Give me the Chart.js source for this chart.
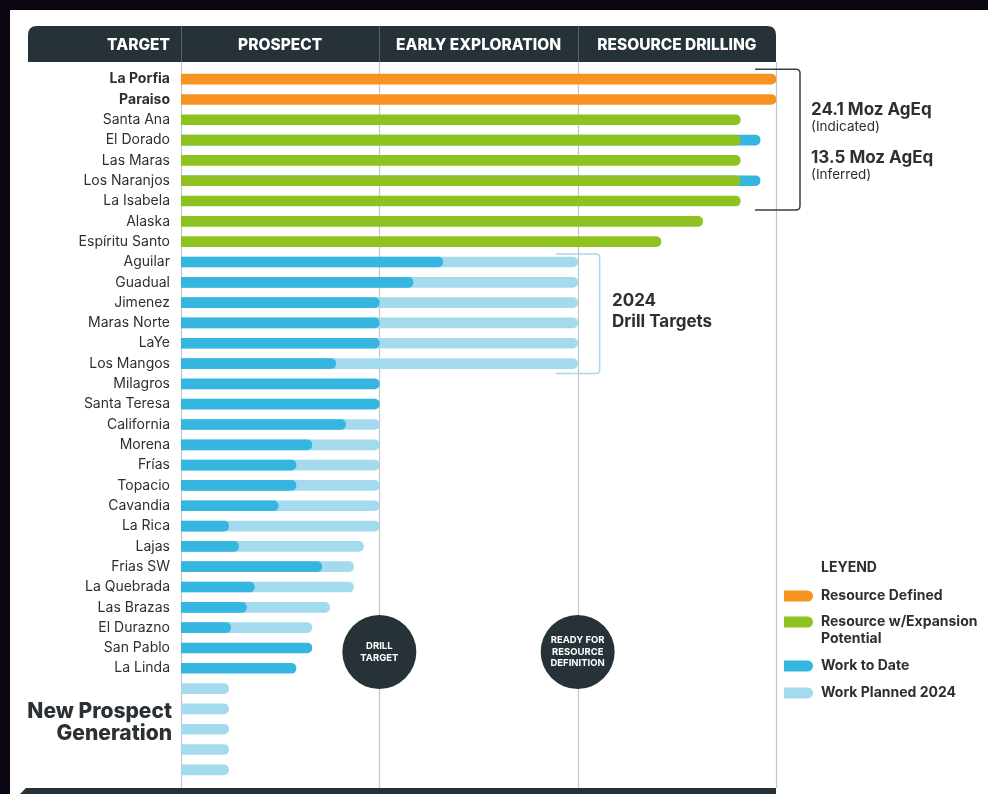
<!DOCTYPE html>
<html>
<head>
    <title>Pipeline de Objetivos</title>
    <script src="https://cdn.jsdelivr.net/npm/chart.js"></script>
    <style>
        html, body { margin: 0; padding: 0; background: #0b0512; }
        #wrap { width: 988px; height: 794px; }
    </style>
</head>
<body>
    <div id="wrap"><canvas id="pipelineChart"></canvas></div>

    <script>
        // Datos (unidad = etapa: 0-1 Prospect, 1-2 Early Exploration, 2-3 Resource Drilling)
        const targets = ['La Porfia', 'Paraiso', 'Santa Ana', 'El Dorado', 'Las Maras', 'Los Naranjos',
            'La Isabela', 'Alaska', 'Espíritu Santo', 'Aguilar', 'Guadual', 'Jimenez', 'Maras Norte',
            'LaYe', 'Los Mangos', 'Milagros', 'Santa Teresa', 'California', 'Morena', 'Frías', 'Topacio',
            'Cavandia', 'La Rica', 'Lajas', 'Frias SW', 'La Quebrada', 'Las Brazas', 'El Durazno',
            'San Pablo', 'La Linda', '', ' ', '  ', '   ', '    '];
        const stages = ['PROSPECT', 'EARLY EXPLORATION', 'RESOURCE DRILLING'];

        const resourceDefined = [3, 3];
        const resourceExpansion = [null, null, 2.82, 2.82, 2.82, 2.82, 2.82, 2.63, 2.42];
        const workToDate = [null, null, null, 2.92, null, 2.92, null, null, null,
            1.32, 1.17, 1, 1, 1, 0.78, 1, 1, 0.83, 0.66, 0.58, 0.58, 0.49, 0.24, 0.29, 0.71,
            0.37, 0.33, 0.25, 0.66, 0.58];
        const workPlanned = [null, null, null, null, null, null, null, null, null,
            2, 2, 2, 2, 2, 2, null, null, 1, 1, 1, 1, 1, 1, 0.92, 0.87, 0.87, 0.75, 0.66,
            null, null, 0.24, 0.24, 0.24, 0.24, 0.24];

        const DARK = '#263238';
        const TEXT = '#2b3035';
        const FONT = 'Inter';
        Chart.defaults.font.family = FONT;

        function roundTopRect(ctx, x, y, w, h, r) {
            ctx.beginPath();
            ctx.moveTo(x, y + h);
            ctx.lineTo(x, y + r);
            ctx.quadraticCurveTo(x, y, x + r, y);
            ctx.lineTo(x + w - r, y);
            ctx.quadraticCurveTo(x + w, y, x + w, y + r);
            ctx.lineTo(x + w, y + h);
            ctx.closePath();
        }

        function bracket(ctx, x0, x1, y0, y1, color) {
            const r = 4;
            ctx.save();
            ctx.strokeStyle = color;
            ctx.lineWidth = 1.5;
            ctx.beginPath();
            ctx.moveTo(x0, y0);
            ctx.lineTo(x1 - r, y0);
            ctx.quadraticCurveTo(x1, y0, x1, y0 + r);
            ctx.lineTo(x1, y1 - r);
            ctx.quadraticCurveTo(x1, y1, x1 - r, y1);
            ctx.lineTo(x0, y1);
            ctx.stroke();
            ctx.restore();
        }

        // Fondo, encabezado y líneas de etapa
        const framePlugin = {
            id: 'frame',
            beforeDraw(chart) {
                const ctx = chart.ctx;
                const xs = chart.scales.x;
                ctx.save();
                ctx.fillStyle = '#0b0512';
                ctx.fillRect(0, 0, chart.width, chart.height);
                ctx.fillStyle = '#ffffff';
                ctx.fillRect(10, 10, chart.width - 10, chart.height - 10);

                const left = 28, right = xs.getPixelForValue(3);
                roundTopRect(ctx, left, 26, right - left, 36, 9);
                ctx.fillStyle = DARK;
                ctx.fill();

                // divisores
                for (let i = 0; i <= 3; i++) {
                    const px = Math.round(xs.getPixelForValue(i)) + 0.5;
                    ctx.strokeStyle = '#56606a';
                    ctx.lineWidth = 1;
                    if (i < 3) {
                        ctx.beginPath(); ctx.moveTo(px, 26); ctx.lineTo(px, 62); ctx.stroke();
                    }
                    ctx.strokeStyle = '#c4c7ca';
                    ctx.lineWidth = 1.2;
                    ctx.beginPath(); ctx.moveTo(px, 62); ctx.lineTo(px, 788); ctx.stroke();
                }

                ctx.fillStyle = '#ffffff';
                ctx.font = `800 15.5px ${FONT}`;
                ctx.textBaseline = 'middle';
                ctx.textAlign = 'right';
                ctx.fillText('TARGET', 170, 45);
                ctx.textAlign = 'center';
                stages.forEach((s, i) => {
                    ctx.fillText(s, (xs.getPixelForValue(i) + xs.getPixelForValue(i + 1)) / 2, 45);
                });
                ctx.restore();
            },
            afterDatasetsDraw(chart) {
                const ctx = chart.ctx;
                const xs = chart.scales.x, ys = chart.scales.y;
                ctx.save();

                // barra inferior
                ctx.fillStyle = DARK;
                ctx.beginPath();
                ctx.moveTo(26, 788);
                ctx.lineTo(xs.getPixelForValue(3), 788);
                ctx.lineTo(xs.getPixelForValue(3), 794);
                ctx.lineTo(20, 794);
                ctx.closePath();
                ctx.fill();

                // círculos de hitos
                const cy = ys.getPixelForValue(28) + 4;
                const circles = [[1, ['DRILL', 'TARGET']], [2, ['READY FOR', 'RESOURCE', 'DEFINITION']]];
                circles.forEach(([v, lines]) => {
                    const cx = xs.getPixelForValue(v);
                    ctx.beginPath();
                    ctx.arc(cx, cy, 37, 0, Math.PI * 2);
                    ctx.fillStyle = DARK;
                    ctx.fill();
                    ctx.fillStyle = '#ffffff';
                    ctx.font = `bold 9.5px ${FONT}`;
                    ctx.textAlign = 'center';
                    ctx.textBaseline = 'middle';
                    lines.forEach((t, k) => {
                        ctx.fillText(t, cx, cy + (k - (lines.length - 1) / 2) * 11.5);
                    });
                });

                // llaves
                const x3 = xs.getPixelForValue(3), x2 = xs.getPixelForValue(2);
                bracket(ctx, x3 - 21, x3 + 24, ys.getPixelForValue(0) - 10, ys.getPixelForValue(6) + 9, '#3a3f44');
                bracket(ctx, x2 - 22, x2 + 22, ys.getPixelForValue(9) - 8, ys.getPixelForValue(14) + 10, '#a6d8ea');

                ctx.textAlign = 'left';
                ctx.textBaseline = 'middle';
                ctx.fillStyle = TEXT;
                ctx.font = `bold 17px ${FONT}`;
                ctx.fillText('24.1 Moz AgEq', 811, 110);
                ctx.fillText('13.5 Moz AgEq', 811, 158);
                ctx.fillText('2024', 612, 301);
                ctx.fillText('Drill Targets', 612, 322);
                ctx.font = `13.5px ${FONT}`;
                ctx.fillText('(Indicated)', 811, 127);
                ctx.fillText('(Inferred)', 811, 175);

                // New Prospect Generation
                ctx.textAlign = 'right';
                ctx.font = `800 21px ${FONT}`;
                ctx.fillText('New Prospect', 172, 712);
                ctx.fillText('Generation', 172, 734);

                // leyenda
                ctx.textAlign = 'left';
                ctx.font = `bold 14px ${FONT}`;
                ctx.fillText('LEYEND', 821, 568);
                const rows = [[596], [622, 639], [666], [693]];
                chart.data.datasets.forEach((ds, k) => {
                    const y = rows[k][0];
                    ctx.fillStyle = ds.backgroundColor;
                    ctx.beginPath();
                    ctx.roundRect(784, y - 5.5, 29, 11, [0, 5.5, 5.5, 0]);
                    ctx.fill();
                    ctx.fillStyle = TEXT;
                    ds.label.split('\n').forEach((p, j) => ctx.fillText(p, 821, rows[k][j]));
                });
                ctx.restore();
            }
        };

        const ctx = document.getElementById('pipelineChart').getContext('2d');
        new Chart(ctx, {
            type: 'bar',
            data: {
                labels: targets,
                datasets: [
                    { label: 'Resource Defined', data: resourceDefined, backgroundColor: '#f7931e' },
                    { label: 'Resource w/Expansion\nPotential', data: resourceExpansion, backgroundColor: '#8dc21f' },
                    { label: 'Work to Date', data: workToDate, backgroundColor: '#35b6e0' },
                    { label: 'Work Planned 2024', data: workPlanned, backgroundColor: '#a3daee' }
                ]
            },
            options: {
                indexAxis: 'y',
                responsive: true,
                maintainAspectRatio: false,
                animation: false,
                layout: { padding: { left: 0, right: 212, top: 69, bottom: 14 } },
                datasets: {
                    bar: { grouped: false, barThickness: 10, borderRadius: 5 }
                },
                plugins: {
                    legend: { display: false },
                    tooltip: { enabled: false }
                },
                scales: {
                    x: { display: false, min: 0, max: 3 },
                    y: {
                        grid: { display: false, drawTicks: false },
                        border: { display: false },
                        afterFit: (s) => { s.width = 181; s.paddingTop = 0; s.paddingBottom = 0; },
                        ticks: {
                            autoSkip: false,
                            padding: 11,
                            color: TEXT,
                            font: (c) => ({ size: 14, weight: c.index < 2 ? 'bold' : 'normal' })
                        }
                    }
                }
            },
            plugins: [framePlugin]
        });
    </script>
</body>
</html>
